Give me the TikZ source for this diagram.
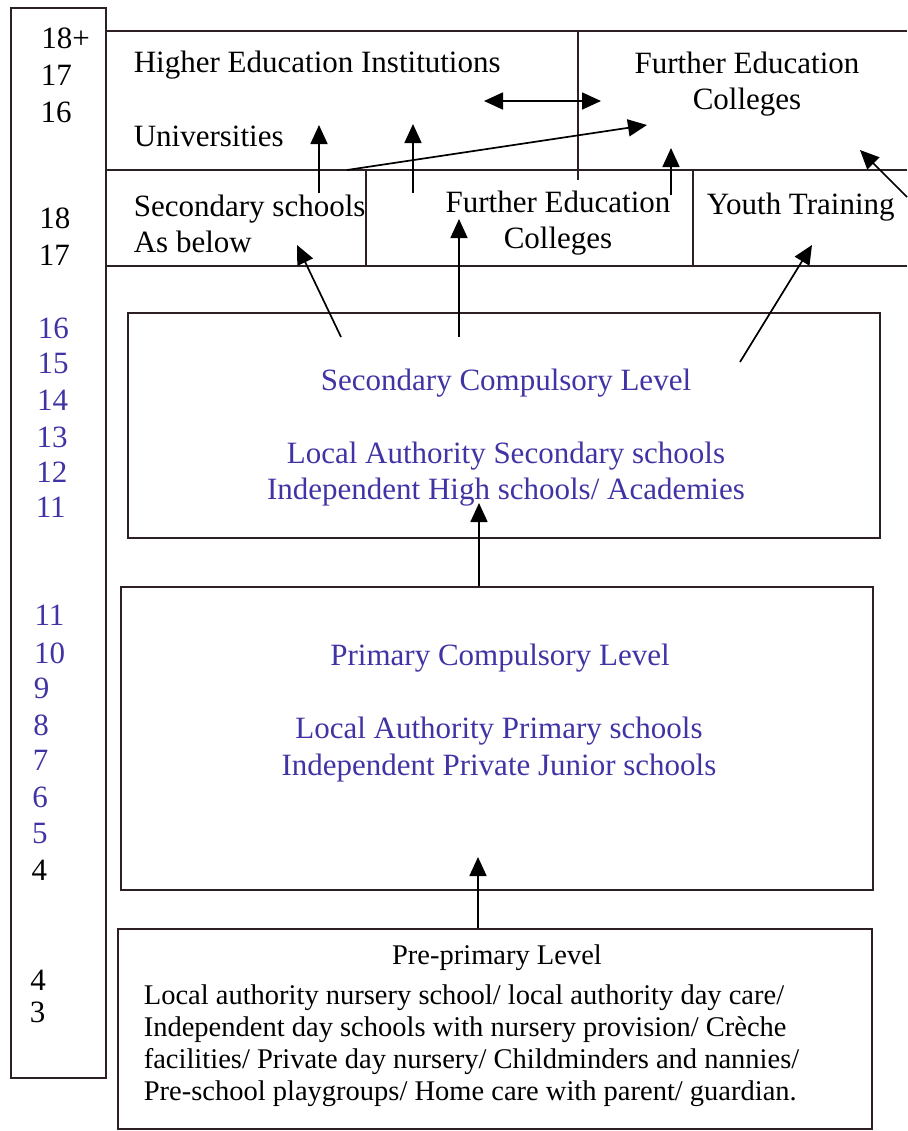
\documentclass[tikz,border=0pt]{standalone}
\usepackage{fontspec}
\setmainfont{Liberation Serif}
\usepackage{xcolor}
\usepackage{tikz}
\usetikzlibrary{arrows.meta}
\usetikzlibrary{positioning}

\definecolor{lvlblue}{RGB}{64,52,165}
\definecolor{rule}{RGB}{45,32,36}

\tikzset{
  levelbox/.style={draw=rule, rectangle, inner sep=0pt},
  lbl/.style={inner sep=0pt, font=\fontsize{15.5}{18}\selectfont},
  txt/.style={lbl, yshift=-1.5pt},
  lvltext/.style={txt, text=lvlblue, align=center},
  small/.style={txt, font=\fontsize{14.25}{16}\selectfont},
  age/.style={lbl, anchor=west}
}

\begin{document}
\begin{tikzpicture}[x=0.5pt, y=-0.5pt, line width=0.85pt, >={Triangle[length=9.5pt, width=8.5pt]}]
  \useasboundingbox (0,0) rectangle (907,1131);

  % age column
  \node[levelbox, minimum width=47.5pt, minimum height=535pt] (ages) at (58.5,543) {};
  \foreach \a/\y/\c in {18+/38/black, 17/75/black, 16/112/black, 18/218/black, 17/255/black,
      16/328/lvlblue, 15/363/lvlblue, 14/400/lvlblue, 13/437/lvlblue, 12/472/lvlblue, 11/507/lvlblue,
      11/615/lvlblue, 10/653/lvlblue, 9/688/lvlblue, 8/725/lvlblue, 7/760/lvlblue, 6/797/lvlblue,
      5/833/lvlblue, 4/870/black, 4/980/black, 3/1012/black}
    \node[age, text=\c] at ({41-\y/85},\y) {\a};

  % post-16 bands
  \draw[rule] (106,31) -- (907,31) (106,170) -- (907,170) (106,266) -- (907,266);
  \draw[rule] (578,31) -- (578,180) (366,170) -- (366,266) (693,170) -- (693,266);

  \node[txt, anchor=west]             (hei)  at (133,62)  {Higher Education Institutions};
  \node[txt, anchor=west]             (uni)  at (133,133) {Universities};
  \node[txt, align=center]            (fec)  at (747,81)  {Further Education\\Colleges};
  \node[txt, anchor=west, align=left] (secs) at (133,221) {Secondary schools\\As below};
  \node[txt, align=center]            (fe)   at (558,220) {Further Education\\Colleges};
  \node[txt, anchor=west]             (yt)   at (706,204) {Youth Training};

  % compulsory levels
  \node[levelbox, minimum width=376pt, minimum height=112.5pt] (sec) at (504,425.5) {};
  \node[lvltext] (sec-t) at (506,380) {Secondary Compulsory Level};
  \node[lvltext] (sec-s) at (506,471) {Local Authority Secondary schools\\Independent High schools/ Academies};

  \node[levelbox, minimum width=376pt, minimum height=151.5pt] (pri) at (497,738.5) {};
  \node[lvltext] (pri-t) at (500,655) {Primary Compulsory Level};
  \node[lvltext, font=\fontsize{15.5}{18.5}\selectfont] (pri-s) at (499,747) {Local Authority Primary schools\\Independent Private Junior schools};

  \node[levelbox, minimum width=377pt, minimum height=100pt] (pre) at (495,1029) {};
  \node[small] (pre-t) at (497,955) {Pre-primary Level};
  \node[small, anchor=west, align=left] (pre-s) at (143,1043)
    {Local authority nursery school/ local authority day care/\\
     Independent day schools with nursery provision/ Crèche\\
     facilities/ Private day nursery/ Childminders and nannies/\\
     Pre-school playgroups/ Home care with parent/ guardian.};

  % arrow ends
  \coordinate (he-l)    at (484,101);
  \coordinate (fec-r)   at (601,101);
  \coordinate (secs-lo) at (319,193);
  \coordinate (secs-up) at (319,125);
  \coordinate (fe-lo)   at (413,193);
  \coordinate (fe-up)   at (413,124);
  \coordinate (secs-tr) at (347,170);
  \coordinate (fec-in)  at (647,125);
  \coordinate (fe-lo2)  at (671,195);
  \coordinate (fe-up2)  at (671,148);
  \coordinate (yt-lo)   at (907,197);
  \coordinate (yt-up)   at (860,150);
  \coordinate (sec-a)   at (341,337);
  \coordinate (secs-in) at (297,245);
  \coordinate (sec-b)   at (459,337);
  \coordinate (fe-in)   at (459,219);
  \coordinate (sec-c)   at (740,362);
  \coordinate (yt-in)   at (812,245);
  \coordinate (sec-in)  at (479,503);
  \coordinate (pri-in)  at (478,857);

  \draw[<->] (he-l) -- (fec-r);
  \path[->]
    (secs-lo) edge (secs-up)
    (fe-lo)   edge (fe-up)
    (secs-tr) edge (fec-in)
    (fe-lo2)  edge (fe-up2)
    (yt-lo)   edge (yt-up)
    (sec-a)   edge (secs-in)
    (sec-b)   edge (fe-in)
    (sec-c)   edge (yt-in)
    (sec-in |- pri.north) edge (sec-in)
    (pri-in |- pre.north) edge (pri-in);
\end{tikzpicture}
\end{document}
